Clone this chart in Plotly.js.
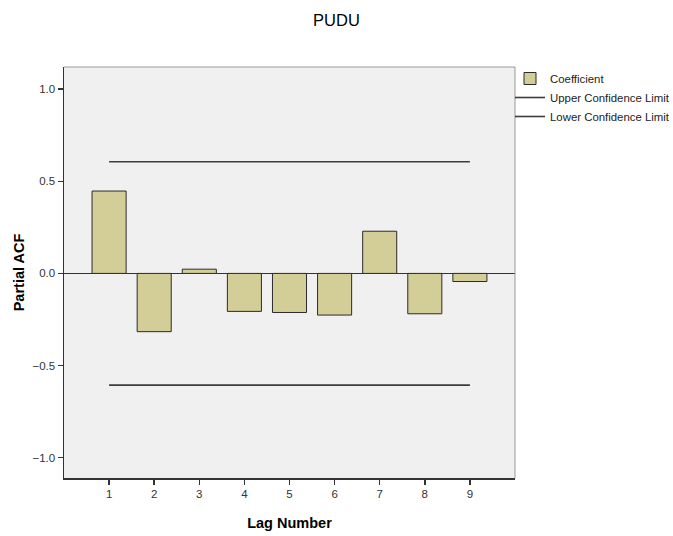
<!DOCTYPE html>
<html><head><meta charset="utf-8">
<script src="https://cdn.plot.ly/plotly-3.0.1.min.js"></script>
<style>html,body{margin:0;padding:0;background:#fff}#chart{width:673px;height:536px}</style>
</head><body><div id="chart"></div>
<script>
var lags = [1, 2, 3, 4, 5, 6, 7, 8, 9];
var coefficient = [0.447, -0.316, 0.023, -0.206, -0.212, -0.226, 0.229, -0.219, -0.044];
var upperLimit = [0.606, 0.606, 0.606, 0.606, 0.606, 0.606, 0.606, 0.606, 0.606];
var lowerLimit = [-0.606, -0.606, -0.606, -0.606, -0.606, -0.606, -0.606, -0.606, -0.606];
var yTicks = [-1.0, -0.5, 0.0, 0.5, 1.0];

var font = 'Arial, "Liberation Sans", sans-serif';
var traces = [
  {type: 'bar', x: lags, y: coefficient, name: 'Coefficient', width: 0.755,
   marker: {color: '#d3ce97', line: {color: '#2b2b2b', width: 1}}},
  {type: 'scatter', mode: 'lines', x: lags, y: upperLimit, name: 'Upper Confidence Limit',
   line: {color: '#3c3c3c', width: 1.6}},
  {type: 'scatter', mode: 'lines', x: lags, y: lowerLimit, name: 'Lower Confidence Limit',
   line: {color: '#3c3c3c', width: 1.6}}
];
var layout = {
  width: 673, height: 536,
  margin: {l: 64, r: 158, t: 67, b: 58, autoexpand: false},
  paper_bgcolor: '#ffffff', plot_bgcolor: '#f0f0f0',
  font: {family: font, size: 11, color: '#222'},
  title: {text: 'PUDU', x: 0.5, xanchor: 'center', xref: 'container', y: 0.962, yanchor: 'middle',
          font: {family: font, size: 16.5, color: '#000'}},
  showlegend: true,
  legend: {xref: 'container', yref: 'container', x: 510 / 673, xanchor: 'left', y: 1 - 64 / 536, yanchor: 'top',
           bgcolor: 'rgba(0,0,0,0)', font: {family: font, size: 11.4, color: '#222'},
           tracegroupgap: 0, itemwidth: 30},
  bargap: 0,
  xaxis: {range: [0, 10], tickvals: lags, ticktext: lags.map(String), showgrid: false,
          zeroline: false, showline: true, linecolor: '#333', linewidth: 1.5, mirror: false,
          ticks: 'outside', ticklen: 5, tickcolor: '#333', tickwidth: 1.5,
          tickfont: {family: font, size: 11.5, color: '#333'},
          title: {text: '<b>Lag Number</b>', standoff: 18, font: {family: font, size: 14.5, color: '#000'}}},
  yaxis: {range: [-1.11, 1.12], tickvals: yTicks, tickformat: '.1f', showgrid: false,
          zeroline: true, zerolinecolor: '#333', zerolinewidth: 1.3,
          showline: true, linecolor: '#333', linewidth: 1.5,
          ticks: 'outside', ticklen: 5, tickcolor: '#333', tickwidth: 1.5,
          tickfont: {family: font, size: 11.5, color: '#333'},
          title: {text: '<b>Partial ACF</b>', standoff: 4, font: {family: font, size: 14.5, color: '#000'}}},
  shapes: [
    {type: 'line', xref: 'paper', yref: 'paper', x0: 1, x1: 1, y0: 0, y1: 1, line: {color: '#999', width: 1}},
    {type: 'line', xref: 'paper', yref: 'paper', x0: 0, x1: 1, y0: 1, y1: 1, line: {color: '#999', width: 1}}
  ]
};
Plotly.newPlot('chart', traces, layout, {displayModeBar: false, staticPlot: true});
</script></body></html>
